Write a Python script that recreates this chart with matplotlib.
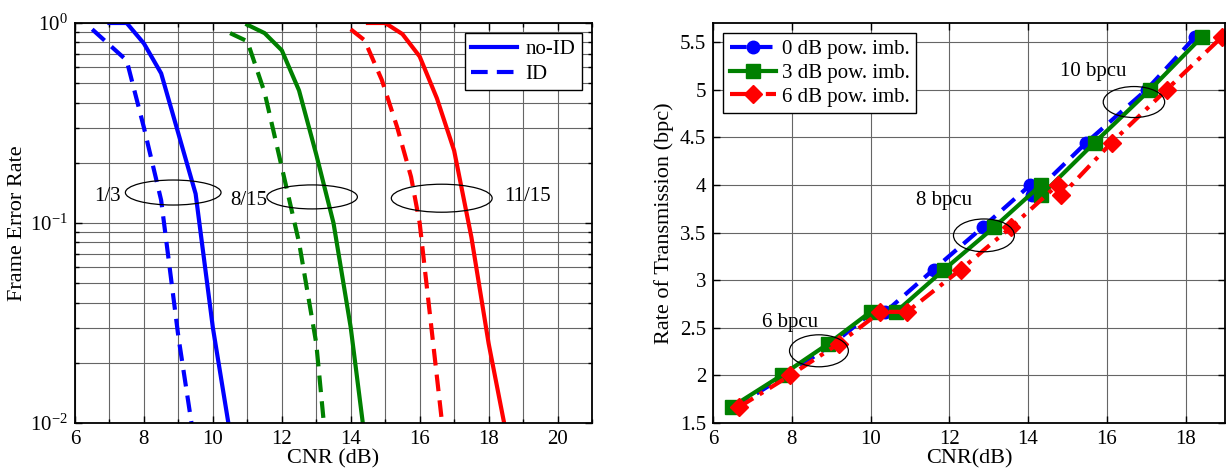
import numpy as np
import matplotlib
matplotlib.use("Agg")
from matplotlib import pyplot as plt
from matplotlib.patches import Ellipse
from matplotlib.ticker import MultipleLocator, LogLocator, NullFormatter

plt.rcParams['font.family'] = ['Liberation Serif', 'DejaVu Serif']
plt.rcParams['mathtext.fontset'] = 'stix'
plt.rcParams['font.size'] = 15

# ---- left panel: frame error rate vs CNR ----
r13_noid_x = [7.0, 7.5, 8.0, 8.5, 9.0, 9.5, 10.0, 10.45]
r13_noid_y = [1.0, 1.0, 0.79, 0.56, 0.28, 0.14, 0.03, 0.01]
r13_id_x = [6.5, 7.5, 8.0, 8.5, 9.0, 9.38]
r13_id_y = [0.93, 0.65, 0.30, 0.13, 0.027, 0.01]

r815_noid_x = [11.0, 11.5, 12.0, 12.5, 13.0, 13.5, 14.0, 14.35]
r815_noid_y = [0.98, 0.89, 0.73, 0.46, 0.22, 0.10, 0.03, 0.01]
r815_id_x = [10.5, 11.0, 11.5, 12.0, 12.5, 13.0, 13.22]
r815_id_y = [0.89, 0.81, 0.45, 0.19, 0.08, 0.025, 0.01]

r1115_noid_x = [14.5, 15.0, 15.5, 16.0, 16.5, 17.0, 17.5, 18.0, 18.45]
r1115_noid_y = [1.0, 1.0, 0.88, 0.68, 0.42, 0.23, 0.085, 0.025, 0.01]
r1115_id_x = [14.0, 14.4, 14.9, 15.35, 15.75, 16.0, 16.65]
r1115_id_y = [0.93, 0.82, 0.52, 0.30, 0.17, 0.10, 0.01]

rate_labels = ['1/3', '8/15', '11/15']
rate_label_x = [6.94, 11.05, 19.12]
rate_label_y = [0.135, 0.13, 0.135]
fer_ell_x = [8.85, 12.88, 16.64]
fer_ell_y = [0.142, 0.135, 0.133]
fer_ell_w = [0.185, 0.175, 0.195]
fer_ell_h = [0.0625, 0.06, 0.07]

# ---- right panel: rate vs CNR ----
rate_vals = [1.667, 2.0, 2.333, 2.667, 2.667, 3.111, 3.556, 4.0, 3.889, 4.444, 5.0, 5.556]
cnr_0db = [6.55, 7.85, 9.05, 10.05, 10.38, 11.6, 12.85, 14.06, 14.1, 15.48, 17.01, 18.25]
cnr_3db = [6.47, 7.74, 8.93, 10.0, 10.65, 11.87, 13.14, 14.33, 14.33, 15.69, 17.1, 18.42]
cnr_6db = [6.66, 7.96, 9.19, 10.25, 10.93, 12.29, 13.57, 14.75, 14.85, 16.12, 17.52, 18.93]

bpcu_labels = ['6 bpcu', '8 bpcu', '10 bpcu']
bpcu_label_x = [7.95, 11.87, 15.66]
bpcu_label_y = [2.55, 3.84, 5.19]
rt_ell_x = [8.69, 12.88, 16.69]
rt_ell_y = [2.258, 3.47, 4.87]
rt_ell_w = [0.115, 0.119, 0.12]
rt_ell_h = [0.08, 0.082, 0.0775]


def add_ellipse(ax, x, y, w, h):
    cx, cy = (ax.transData + ax.transAxes.inverted()).transform((x, y))
    ax.add_patch(Ellipse((cx, cy), w, h, transform=ax.transAxes,
                         fill=False, edgecolor='black', lw=0.9, zorder=5))


def style_box(ax):
    ax.tick_params(which='both', direction='in', top=True, right=True, width=1.0)
    ax.tick_params(which='major', length=5, pad=5)
    ax.tick_params(which='minor', length=3)
    for s in ax.spines.values():
        s.set_linewidth(1.3)


fig = plt.figure(figsize=(12.27, 4.75), dpi=100)
ax1 = fig.add_axes([0.0611, 0.1095, 0.4214, 0.8421])
ax2 = fig.add_axes([0.5811, 0.1095, 0.4172, 0.8421])

lw = 3.0
ax1.semilogy(r13_noid_x, r13_noid_y, '-', color='blue', lw=lw, label='no-ID')
ax1.semilogy(r13_id_x, r13_id_y, '--', color='blue', lw=lw, label='ID', dashes=(4, 2.2))
ax1.semilogy(r815_noid_x, r815_noid_y, '-', color='green', lw=lw)
ax1.semilogy(r815_id_x, r815_id_y, '--', color='green', lw=lw, dashes=(4, 2.2))
ax1.semilogy(r1115_noid_x, r1115_noid_y, '-', color='red', lw=lw)
ax1.semilogy(r1115_id_x, r1115_id_y, '--', color='red', lw=lw, dashes=(4, 2.2))
ax1.set_xlim(6, 21)
ax1.set_ylim(1e-2, 1)
ax1.xaxis.set_major_locator(MultipleLocator(2))
ax1.xaxis.set_minor_locator(MultipleLocator(1))
ax1.yaxis.set_minor_locator(LogLocator(base=10, subs=np.arange(2, 10)))
ax1.yaxis.set_minor_formatter(NullFormatter())
ax1.grid(which='both', color='0.4', lw=0.8)
ax1.set_axisbelow(True)
ax1.set_xlabel('CNR (dB)', labelpad=0, fontsize=16)
ax1.set_ylabel('Frame Error Rate', labelpad=2, fontsize=16)
style_box(ax1)
ax1.legend(loc='upper right', fancybox=False, edgecolor='black', framealpha=1,
           handlelength=2.2, borderaxespad=0.5, labelspacing=0.25,
           borderpad=0.3, handletextpad=0.4, fontsize=15)

for i in range(3):
    add_ellipse(ax1, fer_ell_x[i], fer_ell_y[i], fer_ell_w[i], fer_ell_h[i])
    ax1.text(rate_label_x[i], rate_label_y[i], rate_labels[i], ha='center', va='center', fontsize=15)

ax2.plot(cnr_0db, rate_vals, '--', color='blue', lw=lw, marker='o', ms=9,
         label='0 dB pow. imb.', dashes=(4, 2.2))
ax2.plot(cnr_3db, rate_vals, '-', color='green', lw=lw, marker='s', ms=10,
         label='3 dB pow. imb.')
ax2.plot(cnr_6db, rate_vals, '-.', color='red', lw=lw, marker='D', ms=9,
         label='6 dB pow. imb.', dashes=(4, 1.8, 1, 1.8))
ax2.set_xlim(6, 19)
ax2.set_ylim(1.5, 5.7)
ax2.xaxis.set_major_locator(MultipleLocator(2))
ax2.set_yticks(np.arange(1.5, 5.51, 0.5))
ax2.set_yticklabels(['1.5', '2', '2.5', '3', '3.5', '4', '4.5', '5', '5.5'])
ax2.grid(which='major', color='0.4', lw=0.8)
ax2.set_axisbelow(True)
ax2.set_xlabel('CNR(dB)', labelpad=0, fontsize=16)
ax2.set_ylabel('Rate of Transmission (bpc)', labelpad=4, fontsize=16)
style_box(ax2)
ax2.legend(loc='upper left', fancybox=False, edgecolor='black', framealpha=1,
           handlelength=2.2, borderaxespad=0.5, labelspacing=0.2,
           borderpad=0.3, handletextpad=0.3, fontsize=15)

for i in range(3):
    add_ellipse(ax2, rt_ell_x[i], rt_ell_y[i], rt_ell_w[i], rt_ell_h[i])
    ax2.text(bpcu_label_x[i], bpcu_label_y[i], bpcu_labels[i], ha='center', va='center', fontsize=15)

fig.savefig('out.png', dpi=100)
